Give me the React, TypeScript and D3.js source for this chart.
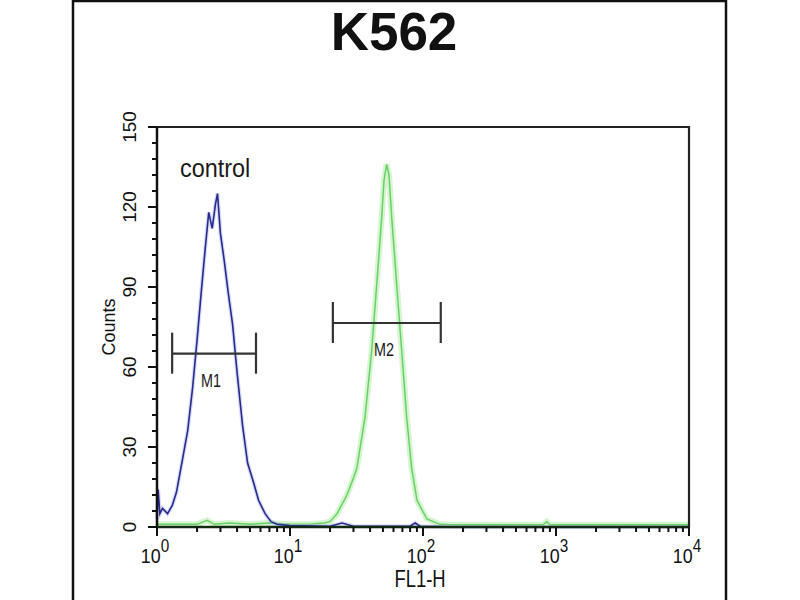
import React, { useEffect, useRef } from "react";
import * as d3 from "d3";

// FL1-H channel values (log axis) and counts
const controlFL = [1.0, 1.02, 1.05, 1.1, 1.2, 1.3, 1.4, 1.55, 1.7, 1.85, 2.0, 2.15, 2.3, 2.45, 2.6, 2.75, 2.85, 3.0, 3.2, 3.45, 3.7, 4.0, 4.4, 4.8, 5.3, 5.8, 6.5, 7.2, 8, 10, 20, 24.6, 30, 80, 87.3, 95, 200, 10000];
const controlCounts = [3, 14, 5, 7, 5, 8, 13, 25, 36, 52, 70, 88, 104, 118, 112, 121, 125, 110, 100, 87, 76, 58, 38, 24, 17, 10, 5, 2, 1, 0.5, 0.3, 1.5, 0.3, 0.3, 1.5, 0.3, 0, 0];

const sampleFL = [1, 1.5, 2.0, 2.38, 2.7, 3.5, 5, 7, 10, 14, 18, 20, 22.6, 26.8, 29.8, 31.8, 36.6, 41.1, 44.9, 48.9, 50.9, 53.3, 55.5, 58.2, 63.4, 69.2, 75.4, 82.2, 90.1, 107, 134, 160, 300, 600, 800, 852, 900, 2000, 10000];
const sampleCounts = [1, 1, 1, 2.5, 1, 1.5, 1, 1.5, 1, 1, 1.5, 2, 5, 12, 18, 22, 41, 66, 91, 116, 130, 136, 132, 116, 91, 66, 41, 22, 10, 3, 1, 0.8, 0.8, 0.8, 0.8, 2, 0.8, 0.8, 0.8];

const markers = [
  { label: "M1", lo: 1.3, hi: 5.55, level: 65 },
  { label: "M2", lo: 21, hi: 136, level: 76.5 },
];

const yTicks = [0, 30, 60, 90, 120, 150];
const xDecades = [0, 1, 2, 3, 4];

const FONT = "'Liberation Sans', Arial, sans-serif";

export default function App() {
  const ref = useRef<SVGSVGElement>(null);

  useEffect(() => {
    const svg = d3.select(ref.current);
    svg.selectAll("*").remove();

    const x = d3.scaleLog().domain([1, 10000]).range([157, 689]);
    const y = d3.scaleLinear().domain([0, 150]).range([527, 127]);

    svg.append("rect").attr("width", 800).attr("height", 600).attr("fill", "#fff");

    // outer frame
    svg.append("rect")
      .attr("x", 73).attr("y", 1).attr("width", 653).attr("height", 620)
      .attr("fill", "none").attr("stroke", "#111").attr("stroke-width", 2.5);

    // title
    svg.append("text")
      .attr("x", 394).attr("y", 50)
      .attr("text-anchor", "middle")
      .attr("font-family", FONT).attr("font-weight", "bold")
      .attr("font-size", 53).attr("fill", "#111")
      .text("K562");

    const line = (xs: number[], ys: number[]) =>
      d3.line<number>()
        .x((d, i) => x(xs[i]))
        .y((d) => y(d))(ys);

    // sample (green)
    svg.append("path")
      .attr("d", line(sampleFL, sampleCounts))
      .attr("fill", "none").attr("stroke", "#c4f0bc").attr("stroke-width", 6).attr("opacity", 0.7);
    svg.append("path")
      .attr("d", line(sampleFL, sampleCounts))
      .attr("fill", "none").attr("stroke", "#66d266").attr("stroke-width", 1.5);

    // control (blue)
    svg.append("path")
      .attr("d", line(controlFL, controlCounts))
      .attr("fill", "none").attr("stroke", "#b4b8ee").attr("stroke-width", 4).attr("opacity", 0.5);
    svg.append("path")
      .attr("d", line(controlFL, controlCounts))
      .attr("fill", "none").attr("stroke", "#262b8c").attr("stroke-width", 1.6);

    // plot box (top / right)
    svg.append("path")
      .attr("d", `M${x(1)},${y(150)}H${x(10000)}V${y(0)}`)
      .attr("fill", "none").attr("stroke", "#222").attr("stroke-width", 2.2);

    // y axis
    const yAxis = svg.append("g");
    yAxis.append("line")
      .attr("x1", x(1)).attr("x2", x(1)).attr("y1", y(0)).attr("y2", y(150))
      .attr("stroke", "#111").attr("stroke-width", 2.5);
    d3.range(0, 151, 6).forEach((v) => {
      yAxis.append("line")
        .attr("x1", x(1) - 5).attr("x2", x(1))
        .attr("y1", y(v)).attr("y2", y(v))
        .attr("stroke", "#111").attr("stroke-width", 2);
    });
    yTicks.forEach((v) => {
      yAxis.append("line")
        .attr("x1", x(1) - 9).attr("x2", x(1))
        .attr("y1", y(v)).attr("y2", y(v))
        .attr("stroke", "#111").attr("stroke-width", 2);
      yAxis.append("text")
        .attr("transform", `translate(136,${y(v)}) rotate(-90)`)
        .attr("text-anchor", "middle")
        .attr("font-family", FONT).attr("font-size", 19).attr("fill", "#111")
        .text(v);
    });
    svg.append("text")
      .attr("transform", `translate(115,${y(75)}) rotate(-90)`)
      .attr("text-anchor", "middle")
      .attr("font-family", FONT).attr("font-size", 18).attr("fill", "#111")
      .text("Counts");

    // x axis
    const xAxis = svg.append("g");
    xAxis.append("line")
      .attr("x1", x(1)).attr("x2", x(10000)).attr("y1", y(0)).attr("y2", y(0))
      .attr("stroke", "#112a11").attr("stroke-width", 2.5);
    xDecades.slice(0, 4).forEach((p) => {
      d3.range(2, 10).forEach((m) => {
        const v = m * Math.pow(10, p);
        xAxis.append("line")
          .attr("x1", x(v)).attr("x2", x(v))
          .attr("y1", y(0)).attr("y2", y(0) + 5)
          .attr("stroke", "#111").attr("stroke-width", 2);
      });
    });
    xDecades.forEach((p) => {
      const v = Math.pow(10, p);
      xAxis.append("line")
        .attr("x1", x(v)).attr("x2", x(v))
        .attr("y1", y(0)).attr("y2", y(0) + 9)
        .attr("stroke", "#111").attr("stroke-width", 2);
      const t = xAxis.append("text")
        .attr("transform", `translate(${x(v) - 2},563) scale(0.85,1)`)
        .attr("text-anchor", "middle")
        .attr("font-family", FONT).attr("font-size", 21).attr("fill", "#111");
      t.append("tspan").text("10");
      t.append("tspan").attr("dy", -11).attr("font-size", 18).text(String(p));
    });
    svg.append("text")
      .attr("transform", `translate(420,587) scale(0.8,1)`)
      .attr("text-anchor", "middle")
      .attr("font-family", FONT).attr("font-size", 23).attr("fill", "#111")
      .text("FL1-H");

    // control label
    svg.append("text")
      .attr("x", 180).attr("y", 177)
      .attr("font-family", FONT).attr("font-size", 26).attr("fill", "#1a1a1a")
      .attr("transform", "translate(180,0) scale(0.9,1) translate(-180,0)")
      .text("control");

    // markers
    markers.forEach((m) => {
      const g = svg.append("g").attr("stroke", "#333").attr("stroke-width", 2.2);
      const yy = y(m.level);
      g.append("line").attr("x1", x(m.lo)).attr("x2", x(m.hi)).attr("y1", yy).attr("y2", yy);
      g.append("line").attr("x1", x(m.lo)).attr("x2", x(m.lo)).attr("y1", yy - 21).attr("y2", yy + 20);
      g.append("line").attr("x1", x(m.hi)).attr("x2", x(m.hi)).attr("y1", yy - 21).attr("y2", yy + 20);
      svg.append("text")
        .attr("transform", `translate(${Math.sqrt(x(m.lo) * x(m.hi)) + 1},${yy + 33}) scale(0.8,1)`)
        .attr("text-anchor", "middle")
        .attr("font-family", FONT).attr("font-size", 18).attr("fill", "#1a1a1a")
        .text(m.label);
    });
  }, []);

  return (
    <svg
      ref={ref}
      width={800}
      height={600}
      style={{ position: "absolute", left: 0, top: 0, display: "block" }}
    />
  );
}
